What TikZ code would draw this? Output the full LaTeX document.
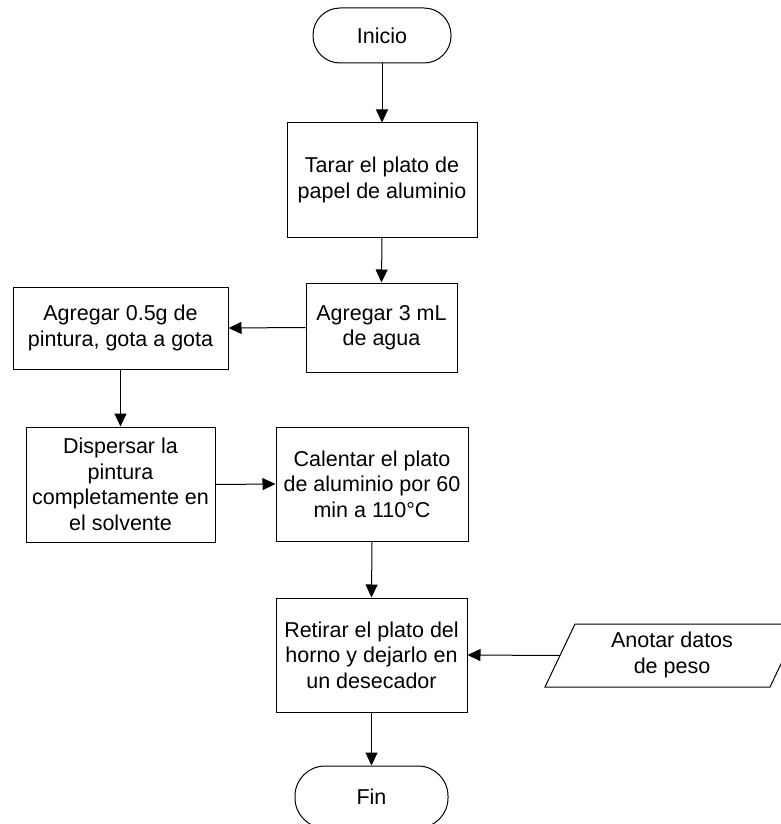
\documentclass[tikz,border=0pt]{standalone}
\usepackage{fontspec}
\setmainfont{Liberation Sans}
\usetikzlibrary{arrows.meta}
\begin{document}
\begin{tikzpicture}[x=1pt,y=-1pt,
  every node/.style={font=\fontsize{21.5}{25.5}\selectfont, align=center, inner sep=0pt},
  procbox/.style={draw, line width=1pt, minimum width=#1},
  terminal/.style={draw, line width=1pt, rounded corners=27pt, minimum height=55pt},
  flow/.style={draw, line width=1pt, -{Triangle[length=13pt,width=12pt]}}
]
\useasboundingbox (0,0) rectangle (780,824);

% start / end terminals
\node[terminal, minimum width=138pt] (inicio) at (382,35.5) {Inicio};
\node[terminal, minimum width=153pt, minimum height=62pt, rounded corners=30pt] (fin) at (371.5,797) {Fin};

% process steps
\node[procbox=190pt, minimum height=114pt] (tarar) at (382,180) {Tarar el plato de\\papel de aluminio};
\node[procbox=151pt, minimum height=89pt] (agua) at (381.5,327.5) {Agregar 3 mL\\de agua};
\node[procbox=215pt, minimum height=82pt] (pintura) at (120.5,328) {Agregar 0.5g de\\pintura, gota a gota};
\node[procbox=189pt, minimum height=115pt] (dispersar) at (120.5,484.5) {Dispersar la\\pintura\\completamente en\\el solvente};
\node[procbox=192pt, minimum height=114pt] (calentar) at (372,484) {Calentar el plato\\de aluminio por 60\\min a 110°C};
\node[procbox=191pt, minimum height=114pt] (retirar) at (371.5,655) {Retirar el plato del\\horno y dejarlo en\\un desecador};

% data input (parallelogram)
\draw[line width=1pt] (575,624) -- (800,624) -- (770,687) -- (545,687) -- cycle;
\node (anotar) at (672,655) {Anotar datos\\de peso};
\coordinate (anotarW) at (560,655.5);

% connectors
\draw[flow] (inicio.south) -- (tarar.north);
\draw[flow] (tarar.south) -- (agua.north);
\draw[flow] (agua.west) -- (pintura.east);
\draw[flow] (pintura.south) -- (dispersar.north);
\draw[flow] (dispersar.east) -- (calentar.west);
\draw[flow] (calentar.south) -- (retirar.north);
\draw[flow] (anotarW) -- (retirar.east);
\draw[flow] (retirar.south) -- (fin.north);
\end{tikzpicture}
\end{document}
